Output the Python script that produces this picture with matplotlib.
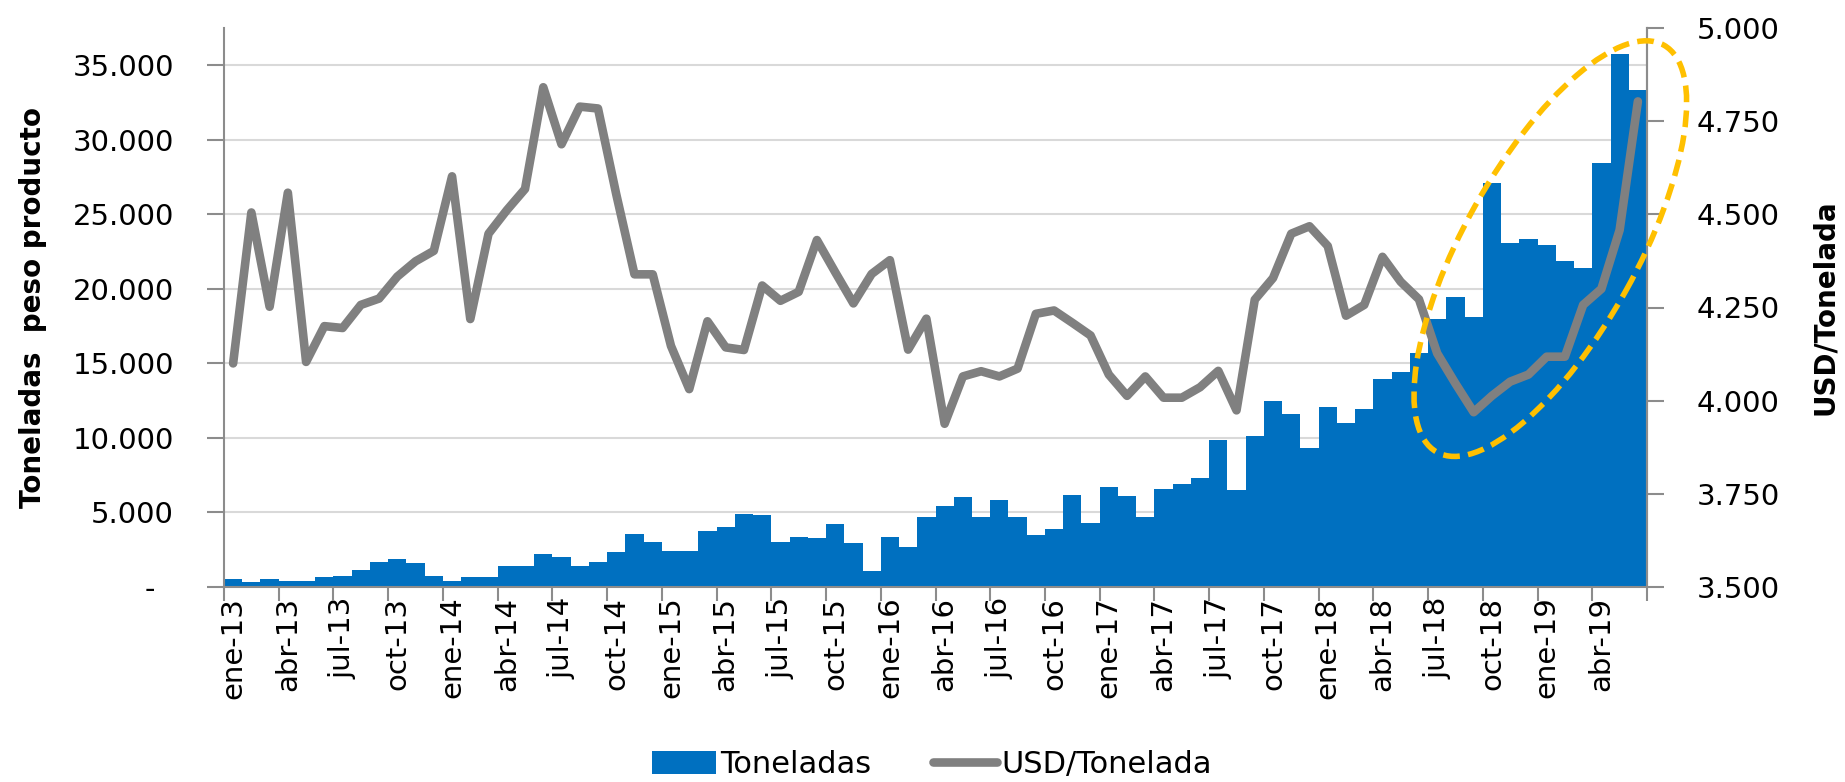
import matplotlib
matplotlib.use("Agg")
import matplotlib.pyplot as plt
import numpy as np
from matplotlib.patches import Ellipse, Patch
from matplotlib.lines import Line2D
from matplotlib.transforms import IdentityTransform
from matplotlib.ticker import FuncFormatter

# monthly series, ene-13 .. jun-19
months = ["ene", "feb", "mar", "abr", "may", "jun",
          "jul", "ago", "sep", "oct", "nov", "dic"]
periods = [f"{m}-{y}" for y in range(13, 20) for m in months][:78]

toneladas = [550, 330, 550, 420, 420, 660, 750, 1170, 1680, 1900,
             1590, 760, 420, 650, 650, 1380, 1380, 2210, 2020, 1380,
             1690, 2330, 3550, 3030, 2400, 2400, 3790, 4000, 4930, 4830,
             3050, 3370, 3310, 4200, 2950, 1100, 3370, 2670, 4715, 5450,
             6070, 4715, 5860, 4715, 3490, 3900, 6170, 4320, 6700, 6075,
             4715, 6590, 6905, 7335, 9840, 6530, 10150, 12500, 11590, 9300,
             12100, 10990, 11930, 13980, 14400, 15700, 17960, 19480, 18130, 27080,
             23050, 23330, 22920, 21860, 21370, 28450, 35760, 33350]

usd_tonelada = [4100, 4505, 4252, 4558, 4104, 4200, 4195, 4257, 4274, 4333,
                4374, 4402, 4602, 4219, 4448, 4511, 4568, 4841, 4688, 4789,
                4784, 4554, 4339, 4339, 4147, 4031, 4213, 4143, 4136, 4309,
                4268, 4292, 4431, 4345, 4261, 4340, 4377, 4137, 4220, 3938,
                4065, 4079, 4065, 4086, 4233, 4242, 4209, 4175, 4070, 4013,
                4065, 4008, 4008, 4036, 4080, 3974, 4271, 4329, 4448, 4468,
                4415, 4228, 4257, 4386, 4319, 4272, 4127, 4046, 3969, 4013,
                4051, 4070, 4118, 4118, 4257, 4300, 4458, 4803]

BLUE = "#0070C0"
GREY = "#808080"
AXIS = "#8C8C8C"
GOLD = "#FFC000"

W, H = 1845, 782
fig = plt.figure(figsize=(W / 100, H / 100), dpi=100)
ax = fig.add_axes([224 / W, 195 / H, 1423 / W, 559 / H])

x = np.arange(len(periods))
ax.bar(x, toneladas, width=1.0, color=BLUE, linewidth=0, zorder=2)
ax.set_xlim(-0.5, len(periods) - 0.5)
ax.set_ylim(0, 37500)
ax.set_yticks(np.arange(0, 35001, 5000))
ax.yaxis.set_major_formatter(FuncFormatter(
    lambda v, p: "-  " if v == 0 else f"{v:,.0f}".replace(",", ".")))
ax.yaxis.grid(True, color="#D9D9D9", lw=1.5)
ax.set_axisbelow(True)

ax.set_xticks(x[::3])
ax.set_xticklabels(periods[::3], rotation=90)
ax.set_xticks(np.arange(-0.5, len(periods), 3), minor=True)
ax.tick_params(axis="x", which="major", length=0, pad=7, labelsize=21)
ax.tick_params(axis="x", which="minor", length=10, width=1.5, color=AXIS)
ax.tick_params(axis="y", length=12, width=1.5, color=AXIS, pad=24, labelsize=21)

ax.spines["top"].set_visible(False)
for s in ["left", "bottom", "right"]:
    ax.spines[s].set_color(AXIS)
    ax.spines[s].set_linewidth(1.5)

ax.set_ylabel("Toneladas  peso producto", fontsize=20, fontweight="bold")
ax.yaxis.set_label_coords(-0.1244, 0.5)

ax2 = ax.twinx()
ax2.plot(x, usd_tonelada, color=GREY, lw=6.2,
         solid_joinstyle="round", solid_capstyle="round", zorder=3)
ax2.set_ylim(3500, 5000)
ax2.set_yticks(np.arange(3500, 5001, 250))
ax2.yaxis.set_major_formatter(FuncFormatter(
    lambda v, p: f"{v:,.0f}".replace(",", ".")))
ax2.tick_params(axis="y", length=12, width=1.5, color=AXIS, pad=24, labelsize=21)
for s in ["top", "left", "bottom"]:
    ax2.spines[s].set_visible(False)
ax2.spines["right"].set_color(AXIS)
ax2.spines["right"].set_linewidth(1.5)
ax2.set_ylabel("USD/Tonelada", fontsize=20, fontweight="bold")
ax2.yaxis.set_label_coords(1.115, 0.5)

# dashed highlight around the last year
cx, cy = ax.transData.transform((72.2, 22700))
ell = Ellipse((cx, cy), 466, 173, angle=60.85, transform=IdentityTransform(),
              fill=False, edgecolor=GOLD, lw=4.0, linestyle=(0, (3.0, 1.5)),
              zorder=10)
fig.add_artist(ell)

handles = [Patch(facecolor=BLUE, edgecolor="none"),
           Line2D([0], [0], color=GREY, lw=6.2, solid_capstyle="round")]
fig.legend(handles, ["Toneladas", "USD/Tonelada"], loc="center",
           bbox_to_anchor=(0.505, 0.022), ncol=2, frameon=False, fontsize=22,
           handlelength=2.1, handleheight=0.8, handletextpad=0.15,
           columnspacing=2.0)

fig.savefig("out.png", dpi=100)
